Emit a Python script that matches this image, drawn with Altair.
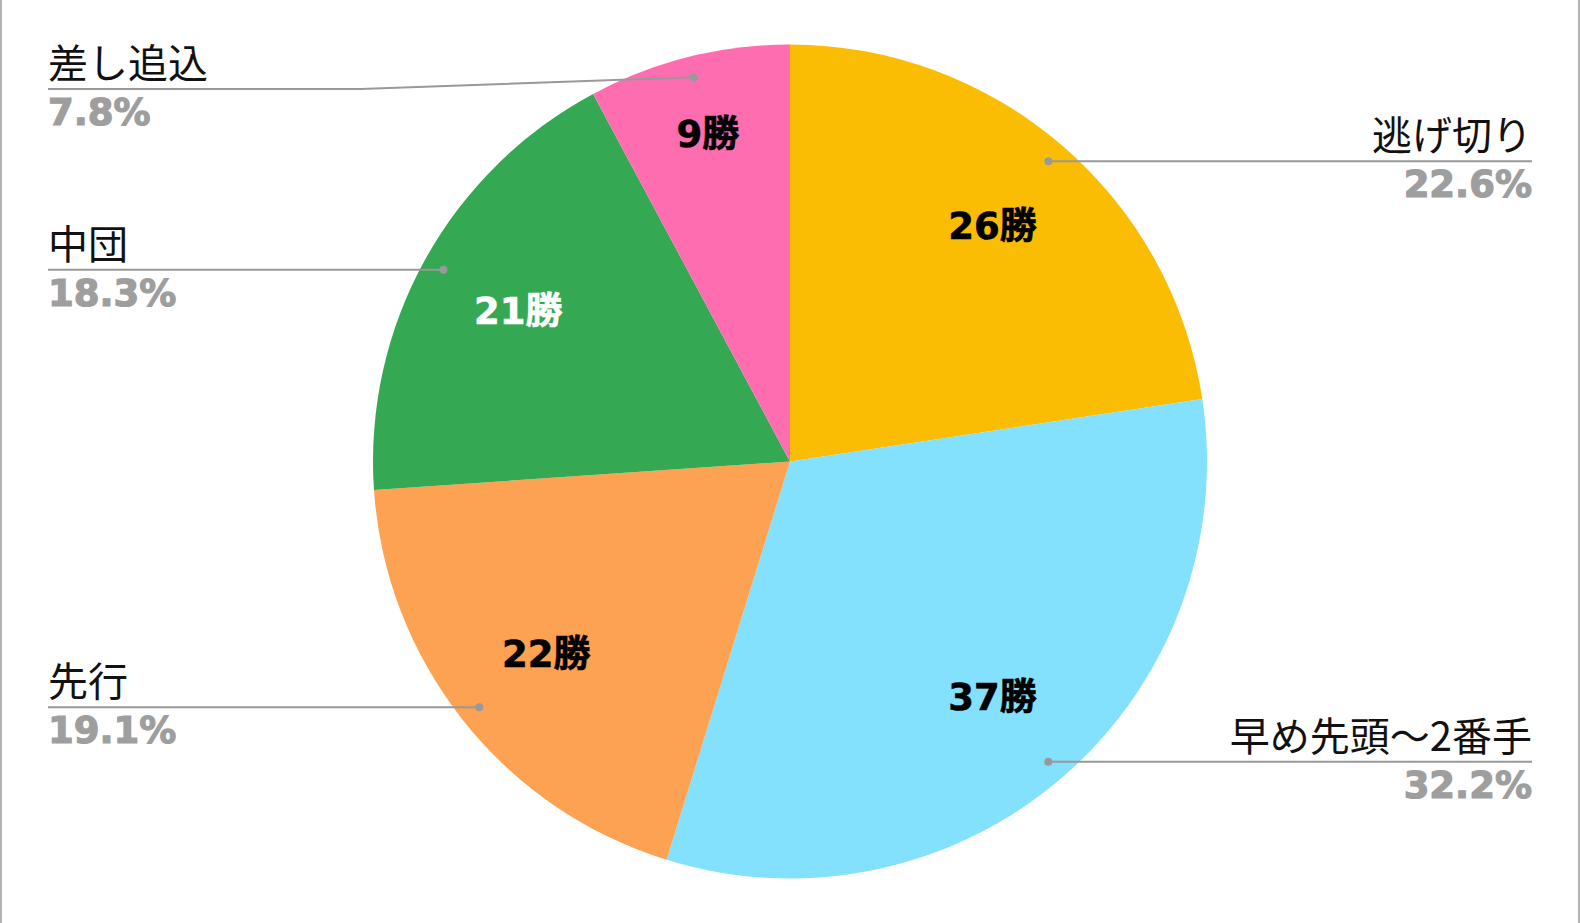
import numpy as np
import pandas as pd
import altair as alt

# Winning-position breakdown
categories = ["逃げ切り", "早め先頭〜2番手", "先行", "中団", "差し追込"]
wins = [26, 37, 22, 21, 9]
colors = ["#FBBC04", "#84E1FD", "#FCA252", "#34A853", "#FF6DB1"]
inner_text_colors = ["#000000", "#000000", "#000000", "#FFFFFF", "#000000"]

# Canvas and pie geometry (pixels)
W, H = 1580, 923
CX, CY = W / 2, H / 2
R = 417
LEFT_X, RIGHT_X = 48, 1532
TOP_LINE = 89

w = np.array(wins, dtype=float)
total = w.sum()
mid = (np.cumsum(w) - w / 2) / total * 2 * np.pi

slices = pd.DataFrame({
    "cat": categories,
    "wins": wins,
    "order": range(len(wins)),
    "inner": [f"{v}勝" for v in wins],
    "pct": [f"{v / total * 100:.1f}%" for v in w],
    "tcolor": inner_text_colors,
})

# inner label position (narrow slices get pushed outward)
r_in = np.where(w / total < 0.1, 0.81 * R, 0.745 * R)
slices["ix"] = CX + r_in * np.sin(mid)
slices["iy"] = CY - r_in * np.cos(mid)

# leader-line anchor on the slice
r_dot = 0.95 * R
slices["dx"] = CX + r_dot * np.sin(mid)
slices["dy"] = CY - r_dot * np.cos(mid)
right = np.sin(mid) > 0
slices["ex"] = np.where(right, RIGHT_X, LEFT_X)
slices["ly"] = np.maximum(slices["dy"], TOP_LINE)
slices["align"] = np.where(right, "right", "left")

pts = []
for rec in slices.to_dict("records"):
    pts.append((rec["cat"], 0, rec["dx"], rec["dy"]))
    if rec["ly"] != rec["dy"]:
        pts.append((rec["cat"], 1, (rec["dx"] + rec["ex"]) / 2 - 10, rec["ly"]))
    pts.append((rec["cat"], 2, rec["ex"], rec["ly"]))
leaders = pd.DataFrame(pts, columns=["cat", "k", "x", "y"])

xs = alt.Scale(domain=[0, W], nice=False, zero=False)
ys = alt.Scale(domain=[0, H], nice=False, zero=False, reverse=True)

pie = alt.Chart(slices).mark_arc(outerRadius=R).encode(
    theta=alt.Theta("wins:Q", stack=True),
    order=alt.Order("order:Q"),
    color=alt.Color("cat:N", scale=alt.Scale(domain=categories, range=colors), legend=None),
)

inner = alt.Chart(slices).mark_text(
    font="DejaVu Sans, Noto Sans CJK JP", fontWeight="bold", fontSize=37,
    align="center", baseline="middle", strokeWidth=0.6, dy=2,
).encode(
    x=alt.X("ix:Q", scale=xs, axis=None),
    y=alt.Y("iy:Q", scale=ys, axis=None),
    text="inner:N",
    color=alt.Color("tcolor:N", scale=None),
    stroke=alt.Stroke("tcolor:N", scale=None),
)

lines = alt.Chart(leaders).mark_line(color="#999999", strokeWidth=2).encode(
    x=alt.X("x:Q", scale=xs, axis=None),
    y=alt.Y("y:Q", scale=ys, axis=None),
    detail="cat:N",
    order="k:Q",
)

dots = alt.Chart(slices).mark_circle(size=64, color="#999999", opacity=1).encode(
    x=alt.X("dx:Q", scale=xs, axis=None),
    y=alt.Y("dy:Q", scale=ys, axis=None),
)

def side_text(df, align):
    base = alt.Chart(df)
    name = base.mark_text(
        font="Noto Sans CJK JP", fontSize=40, color="#111111",
        align=align, baseline="alphabetic", dy=-11,
    ).encode(
        x=alt.X("ex:Q", scale=xs, axis=None),
        y=alt.Y("ly:Q", scale=ys, axis=None),
        text="cat:N",
    )
    pct = base.mark_text(
        font="DejaVu Sans", fontWeight="bold", fontSize=37, color="#9e9e9e",
        stroke="#9e9e9e", strokeWidth=1.2,
        align=align, baseline="alphabetic", dy=36,
    ).encode(
        x=alt.X("ex:Q", scale=xs, axis=None),
        y=alt.Y("ly:Q", scale=ys, axis=None),
        text="pct:N",
    )
    return name + pct

left_labels = side_text(slices[slices["align"] == "left"], "left")
right_labels = side_text(slices[slices["align"] == "right"], "right")

frame = alt.Chart(pd.DataFrame({"x": [1, W - 1]})).mark_rule(
    color="#9a9a9a", strokeWidth=1.5
).encode(
    x=alt.X("x:Q", scale=xs, axis=None),
    y=alt.value(0),
    y2=alt.value(H),
)

chart = alt.layer(
    pie, lines, dots, inner, left_labels, right_labels, frame
).properties(
    width=W, height=H, padding=0, autosize=alt.AutoSizeParams(type="none"),
    background="white",
).configure_view(stroke=None)

chart.save("out.html", embed_options={"renderer": "svg", "actions": False})
